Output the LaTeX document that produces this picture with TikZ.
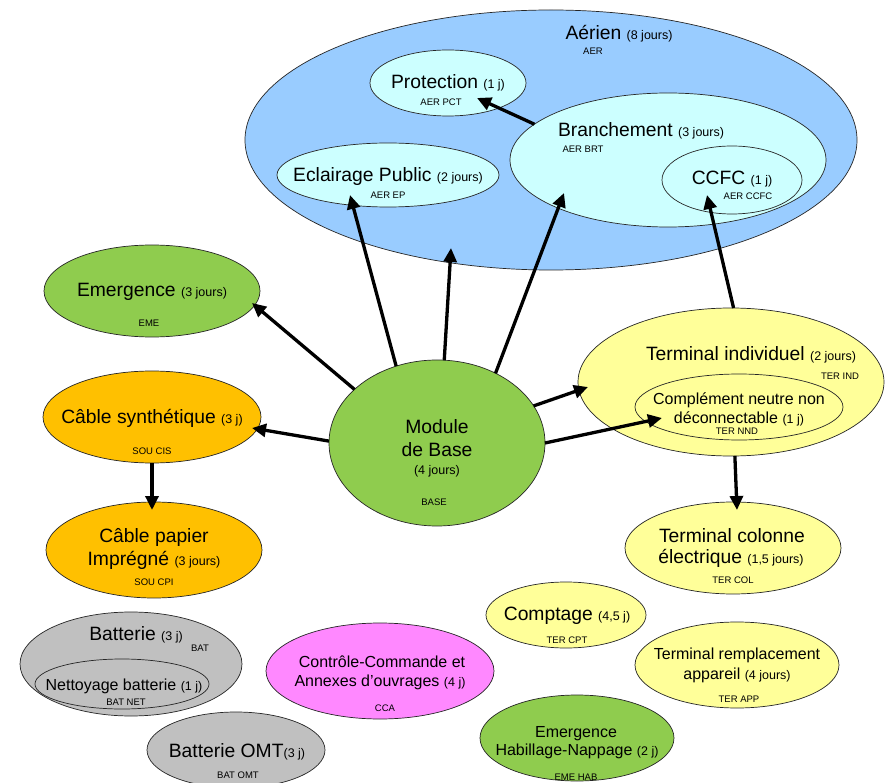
\documentclass[tikz,border=0pt]{standalone}
\usepackage{fontspec}
\setmainfont{Liberation Sans}
\usetikzlibrary{shapes.geometric,arrows.meta,calc}
\definecolor{aerblue}{HTML}{99CCFF}
\definecolor{lcyan}{HTML}{CCFFFF}
\definecolor{mgreen}{HTML}{8FCC4E}
\definecolor{mgold}{HTML}{FFC000}
\definecolor{lyellow}{HTML}{FFFF99}
\definecolor{mgray}{HTML}{C0C0C0}
\definecolor{mpink}{HTML}{FF88FF}
\newcommand\fbig{\fontsize{19.3}{23}\selectfont}
\newcommand\fmid{\fontsize{16}{19}\selectfont}
\newcommand\fsml{\fontsize{12.5}{15}\selectfont}
\newcommand\fcode{\fontsize{9.5}{11}\selectfont}
\tikzset{
  bub/.style={ellipse, draw=black!85, line width=0.7pt, inner sep=0pt, outer sep=0pt},
  lbl/.style={anchor=base, inner sep=0pt, outer sep=0pt, font=\fbig, text=black},
  code/.style={anchor=base, inner sep=0pt, outer sep=0pt, font=\fcode, text=black},
  arr/.style={line width=3.3pt, draw=black, -{Triangle[length=14pt,width=13pt]}},
}
\newcommand\tx[4]{\node[lbl] (#1) at (#2,#3) {#4};}
\newcommand\cd[4]{\node[code] (#1) at (#2,#3) {#4};}
\begin{document}
\begin{tikzpicture}[x=1pt,y=-1pt]
\useasboundingbox (0,0) rectangle (886,783);
\fill[white] (0,0) rectangle (886,783);
% ellipses
\node[bub, fill=aerblue, minimum width=612pt, minimum height=260pt] (aer) at (551,140) {};
\node[bub, fill=lcyan, minimum width=156pt, minimum height=66pt] (pct) at (448,83) {};
\node[bub, fill=lcyan, minimum width=222pt, minimum height=64pt] (ecl) at (388,175) {};
\node[bub, fill=lcyan, minimum width=316pt, minimum height=134pt] (brt) at (668,160) {};
\node[bub, fill=lcyan, minimum width=140pt, minimum height=68pt] (ccfc) at (732,180) {};
\node[bub, fill=mgreen, minimum width=216pt, minimum height=92pt] (eme) at (152,291) {};
\node[bub, fill=mgold, minimum width=218pt, minimum height=92pt] (cis) at (152,417) {};
\node[bub, fill=mgold, minimum width=216pt, minimum height=96pt] (cpi) at (154,550) {};
\node[bub, fill=mgreen, minimum width=216pt, minimum height=166pt] (mod) at (437,443) {};
\node[bub, fill=lyellow, minimum width=306pt, minimum height=148pt] (ind) at (731,382) {};
\node[bub, fill=lyellow, minimum width=208pt, minimum height=66pt] (nnd) at (739,407) {};
\node[bub, fill=lyellow, minimum width=216pt, minimum height=92pt] (col) at (733,548) {};
\node[bub, fill=lyellow, minimum width=160pt, minimum height=66pt] (cpt) at (566,615) {};
\node[bub, fill=lyellow, minimum width=204pt, minimum height=86pt] (app) at (737,665) {};
\node[bub, fill=mgreen, minimum width=194pt, minimum height=86pt] (hab) at (577,738) {};
\node[bub, fill=mpink, minimum width=228pt, minimum height=96pt] (cca) at (380,671) {};
\node[bub, fill=mgray, minimum width=222pt, minimum height=104pt] (bat) at (131,664) {};
\node[bub, fill=mgray, minimum width=174pt, minimum height=50pt] (net) at (122,684) {};
\node[bub, fill=mgray, minimum width=178pt, minimum height=76pt] (omt) at (236,750) {};
% arrows
\draw[arr] (mod.147) -- ($(eme.center)+(100,12)$);
\draw[arr] (mod.179) -- ($(cis.center)+(100,11)$);
\draw[arr] (mod.118) -- ($(ecl.center)+(-38,20)$);
\draw[arr] (mod.85) -- ($(aer.center)+(-100,108)$);
\draw[arr] (mod.50) -- ($(brt.center)+(-104,33)$);
\draw[arr] (mod.21) -- ($(ind.center)+(-143,5)$);
\draw[arr] (mod.0) -- ($(nnd.center)+(-77,11)$);
\draw[arr] (cis.south) -- ($(cpi.center)+(-2,-40)$);
\draw[arr] (ind.-87) -- ($(col.center)+(4,-38)$);
\draw[arr] (ind.88) -- ($(ccfc.center)+(-25,15)$);
\draw[arr] (brt.165) -- ($(pct.center)+(29,15)$);
% texts
\tx{taer}{619}{40}{Aérien {\fsml(8 jours)}}
\cd{caer}{593}{55}{AER}
\tx{tpct}{448}{89}{Protection {\fsml(1 j)}}
\cd{cpct}{441}{106}{AER PCT}
\tx{tecl}{388}{182}{Eclairage Public {\fsml(2 jours)}}
\cd{cecl}{388}{199}{AER EP}
\tx{tbrt}{641}{137}{Branchement {\fsml(3 jours)}}
\cd{cbrt}{583}{153}{AER BRT}
\tx{tccfc}{732}{185}{CCFC {\fsml(1 j)}}
\cd{cccfc}{748}{200}{AER CCFC}
\tx{teme}{152}{297}{Emergence {\fsml(3 jours)}}
\cd{ceme}{149}{327}{EME}
\tx{tcis}{152}{423}{Câble synthétique {\fsml(3 j)}}
\cd{ccis}{152}{454}{SOU CIS}
\tx{tcpia}{154}{542}{Câble papier}
\tx{tcpib}{154}{565}{Imprégné {\fsml(3 jours)}}
\cd{ccpi}{154}{585}{SOU CPI}
\tx{tmoda}{437}{433}{Module}
\tx{tmodb}{437}{456}{de Base}
\tx{tmodc}{437}{474}{\fsml(4 jours)}
\cd{cmod}{434}{505}{BASE}
\tx{tind}{751}{361}{Terminal individuel {\fsml(2 jours)}}
\cd{cind}{840}{380}{TER IND}
\tx{tnnda}{739}{404}{\fmid Complément neutre non}
\tx{tnndb}{739}{423}{\fmid déconnectable {\fsml(1 j)}}
\cd{cnnd}{737}{434}{TER NND}
\tx{tcola}{732}{542}{Terminal colonne}
\tx{tcolb}{731}{563}{électrique {\fsml(1,5 jours)}}
\cd{ccol}{733}{583}{TER COL}
\tx{tcpt}{567}{620}{Comptage {\fsml(4,5 j)}}
\cd{ccpt}{567}{643}{TER CPT}
\tx{tappa}{737}{659}{\fmid Terminal remplacement}
\tx{tappb}{737}{679}{\fmid appareil {\fsml(4 jours)}}
\cd{capp}{739}{702}{TER APP}
\tx{thaba}{576}{737}{\fmid Emergence}
\tx{thabb}{577}{755}{\fmid Habillage-Nappage {\fsml(2 j)}}
\cd{chab}{576}{780}{EME HAB}
\tx{tccaa}{382}{667}{\fmid Contrôle-Commande et}
\tx{tccab}{380}{686}{\fmid Annexes d’ouvrages {\fsml(4 j)}}
\cd{ccca}{385}{711}{CCA}
\tx{tbat}{136}{640}{Batterie {\fsml(3 j)}}
\cd{cbat}{200}{651}{BAT}
\tx{tnet}{124}{690}{\fmid Nettoyage batterie {\fsml(1 j)}}
\cd{cnet}{126}{705}{BAT NET}
\tx{tomt}{237}{757}{Batterie OMT{\fsml(3 j)}}
\cd{comt}{238}{778}{BAT OMT}
\end{tikzpicture}
\end{document}
